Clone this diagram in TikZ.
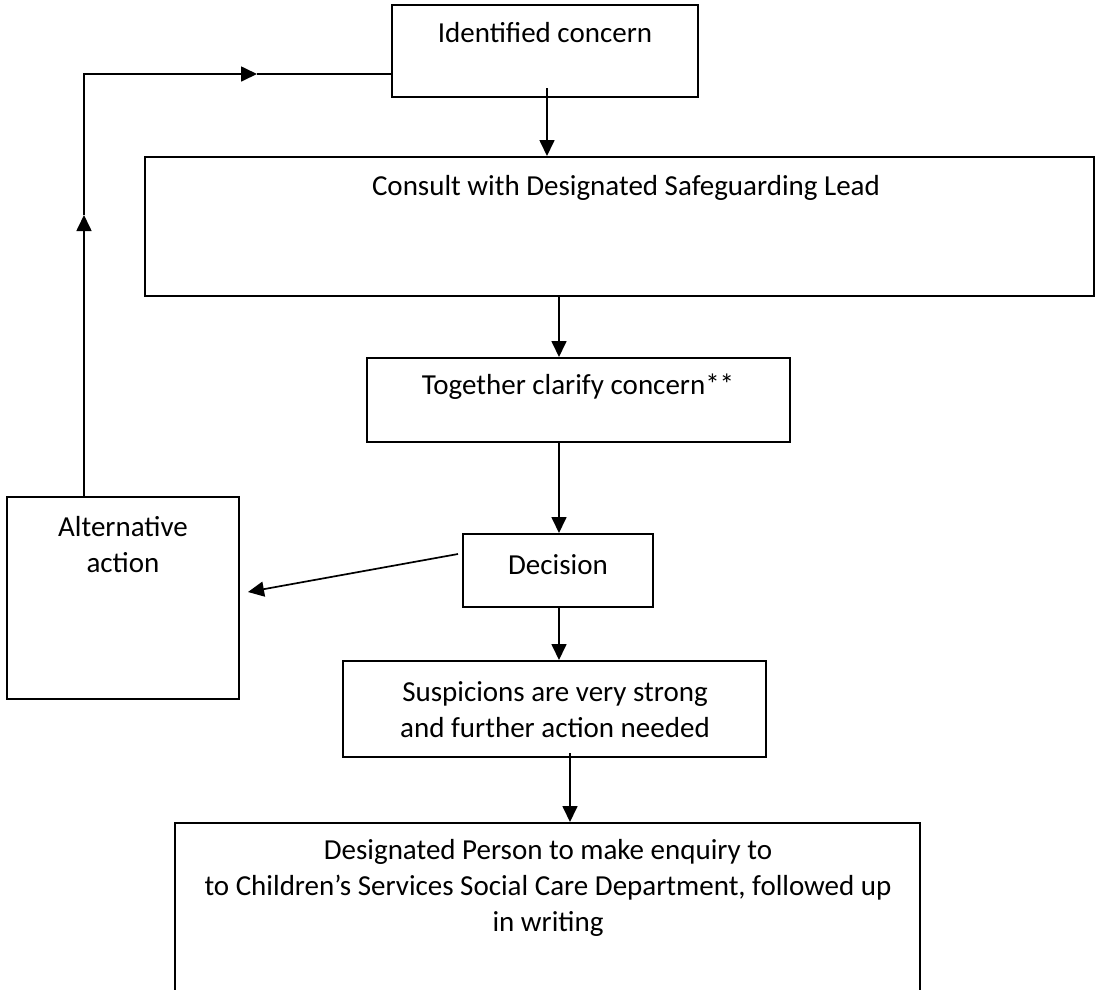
\documentclass[tikz,border=0pt]{standalone}
\usepackage{fontspec}
\setmainfont{Carlito}
\usetikzlibrary{arrows.meta}
\begin{document}
\begin{tikzpicture}[x=1pt,y=-1pt,
  box/.style={draw, line width=2pt, rectangle, inner sep=0pt},
  txt/.style={font=\fontsize{29}{36}\selectfont, inner sep=0pt, align=center},
  ln/.style={line width=1.7pt},
  arr/.style={line width=1.7pt, -{Triangle[length=16pt,width=15pt]}}]
\useasboundingbox[fill=white] (0,0) rectangle (1096,989);
% boxes
\node[box, minimum width=306pt, minimum height=92pt] (ident) at (545,51) {};
\node[box, minimum width=949pt, minimum height=139pt] (consult) at (619.5,226.5) {};
\node[box, minimum width=423pt, minimum height=84pt] (together) at (578.5,400) {};
\node[box, minimum width=190pt, minimum height=73pt] (decision) at (558,570.5) {};
\node[box, minimum width=232pt, minimum height=202pt] (alt) at (123,598) {};
\node[box, minimum width=423pt, minimum height=96pt] (susp) at (554.5,709) {};
\node[box, minimum width=745pt, minimum height=200pt] (desig) at (547.5,923) {};
% texts
\node[txt] (tident) at (545,33) {Identified concern};
\node[txt] (tconsult) at (626,188) {Consult with Designated Safeguarding Lead};
\node[txt] (ttogether) at (578,387) {Together clarify concern**};
\node[txt] (tdecision) at (558,565) {Decision};
\node[txt] (talt) at (123,545) {Alternative\\action};
\node[txt] (tsusp) at (555,710) {Suspicions are very strong\\and further action needed};
\node[txt] (tdesig) at (548,888) {Designated Person to make enquiry to\\to Children’s Services Social Care Department, followed up\\in writing};
% connectors
\coordinate (a1) at (547,88);
\draw[arr] (a1) -- (a1 |- consult.north);
\coordinate (a2) at (559,296);
\draw[arr] (a2) -- (a2 |- together.north);
\coordinate (a3) at (559,442);
\draw[arr] (a3) -- (a3 |- decision.north);
\coordinate (a4) at (559,607);
\draw[arr] (a4) -- (a4 |- susp.north);
\coordinate (a5) at (570,753);
\draw[arr] (a5) -- (a5 |- desig.north);
\coordinate (d1) at (458,554);
\coordinate (d2) at (248,592);
\draw[arr] (d1) -- (d2);
% loop back
\coordinate (altTop) at (84,497);
\coordinate (upTip) at (84,215);
\coordinate (corner) at (84,74);
\coordinate (rtTip) at (257,74);
\draw[arr] (altTop) -- (upTip);
\draw[arr] (upTip) -- (corner) -- (rtTip);
\draw[ln] (rtTip) -- (rtTip -| ident.west);
\end{tikzpicture}
\end{document}
